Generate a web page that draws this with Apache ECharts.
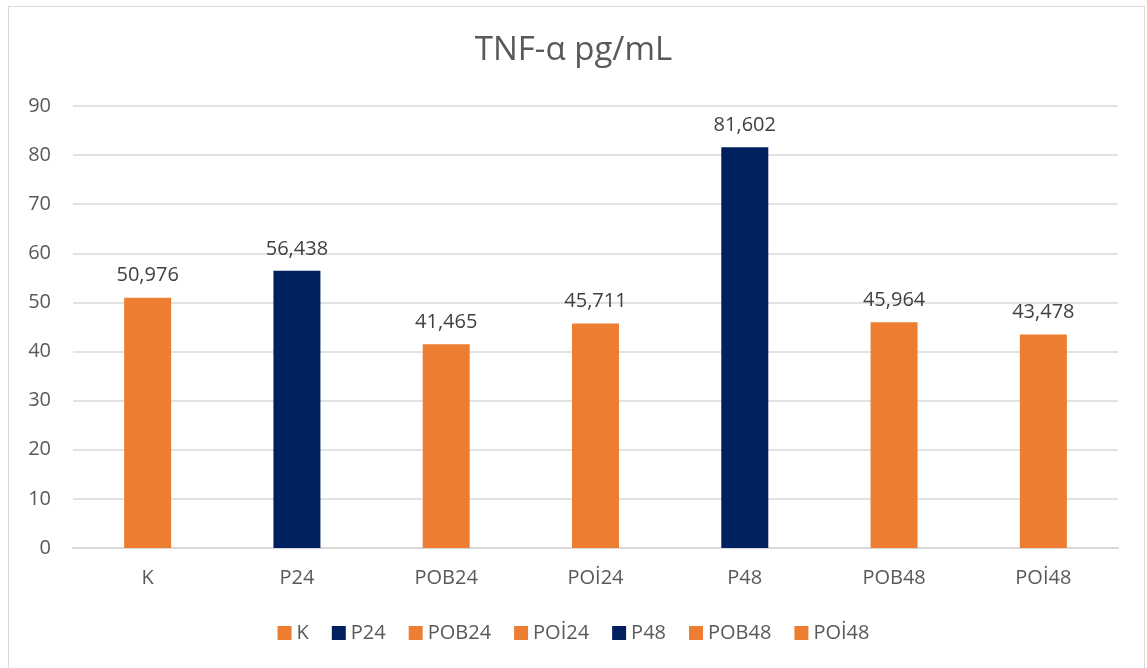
<!DOCTYPE html>
<html>
<head>
<meta charset="utf-8">
<script src="https://cdn.jsdelivr.net/npm/echarts@6/dist/echarts.min.js"></script>
<style>
  html, body { margin: 0; padding: 0; background: #fff; }
  #chart { width: 1147px; height: 668px; }
  #frame { position: absolute; left: 8px; top: 6px; width: 1137px; height: 670px; border: 1px solid #d9d9d9; box-sizing: border-box; pointer-events: none; }
</style>
</head>
<body>
<div id="chart"></div>
<div id="frame"></div>
<script>
var categories = ['K', 'P24', 'POB24', 'POİ24', 'P48', 'POB48', 'POİ48'];
var values = [50.976, 56.438, 41.465, 45.711, 81.602, 45.964, 43.478];
var colors = ['#ED7D31', '#002060', '#ED7D31', '#ED7D31', '#002060', '#ED7D31', '#ED7D31'];
var yTicks = { min: 0, max: 90, interval: 10 };

var font = '"Open Sans", "Noto Sans", sans-serif';

// one series per category so the legend lists every category
var series = categories.map(function (name, i) {
    var d = categories.map(function (c, j) { return j === i ? values[i] : null; });
    return {
        name: name,
        type: 'bar',
        stack: 'all',
        barWidth: 47,
        itemStyle: { color: colors[i] },
        label: {
            show: true,
            position: 'top',
            distance: 12,
            color: '#404040',
            fontSize: 20,
            fontFamily: font,
            formatter: function (p) { return p.value.toFixed(3).replace('.', ','); }
        },
        data: d
    };
});

var chart = echarts.init(document.getElementById('chart'));
chart.setOption({
    animation: false,
    textStyle: { fontFamily: font },
    title: {
        text: 'TNF-α pg/mL',
        left: 'center',
        top: 29,
        textStyle: { fontSize: 33, fontWeight: 'normal', color: '#595959', fontFamily: font }
    },
    legend: {
        bottom: 20,
        left: 'center',
        itemWidth: 14,
        itemHeight: 14,
        itemGap: 23,
        icon: 'rect',
        textStyle: { fontSize: 20, color: '#595959', fontFamily: font },
        data: categories
    },
    grid: { left: 73, right: 29, top: 106, bottom: 120 },
    xAxis: {
        type: 'category',
        data: categories,
        axisLine: { lineStyle: { color: '#d9d9d9', width: 2 } },
        axisTick: { show: false },
        axisLabel: { color: '#595959', fontSize: 20, margin: 20, fontFamily: font }
    },
    yAxis: {
        type: 'value',
        min: yTicks.min,
        max: yTicks.max,
        interval: yTicks.interval,
        axisLine: { show: false },
        axisTick: { show: false },
        splitLine: { lineStyle: { color: '#d9d9d9', width: 1.5 } },
        axisLabel: { color: '#595959', fontSize: 20, margin: 22, fontFamily: font }
    },
    series: series
});
</script>
</body>
</html>
